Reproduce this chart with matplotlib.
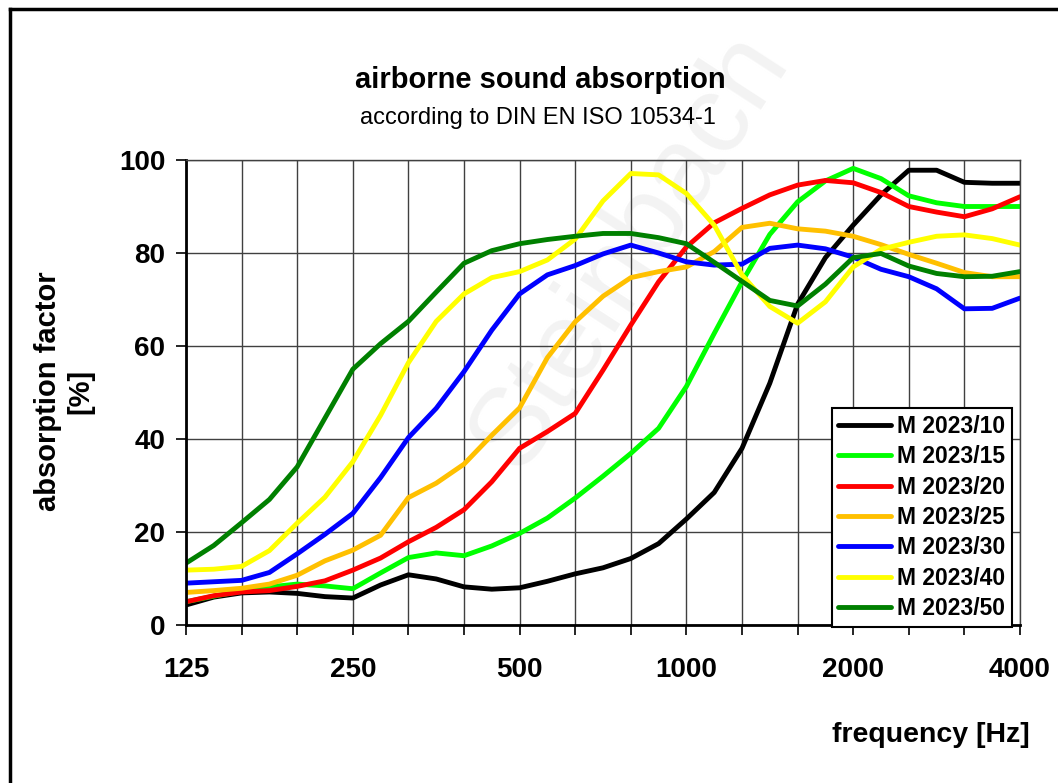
import numpy as np
import matplotlib.pyplot as plt
from matplotlib.lines import Line2D
from matplotlib.ticker import NullFormatter

plt.rcParams['font.family'] = ['Liberation Sans', 'DejaVu Sans']

# 1/6-octave frequencies (Hz)
freq = [125, 140.3, 157.5, 176.8, 198.4, 222.7, 250, 280.6, 315, 353.6, 396.9,
        445.4, 500, 561.2, 630, 707.1, 793.7, 890.9, 1000, 1122.5, 1259.9,
        1414.2, 1587.4, 1781.8, 2000, 2244.9, 2519.8, 2828.4, 3174.8, 3563.6, 4000]

m10 = [4.3, 6.0, 6.9, 7.1, 6.8, 6.1, 5.8, 8.6, 10.8, 9.9, 8.2, 7.7, 8.0, 9.4, 11.0,
       12.3, 14.3, 17.5, 22.8, 28.5, 38.0, 52.0, 69.0, 79.0, 86.0, 92.5, 97.8, 97.8,
       95.2, 95.0, 95.0]
m15 = [5.0, 6.2, 7.3, 8.2, 8.8, 8.4, 7.8, 11.2, 14.5, 15.5, 14.9, 17.0, 19.7, 23.0,
       27.3, 32.0, 36.9, 42.3, 51.3, 62.7, 73.8, 84.0, 91.0, 95.5, 98.2, 96.0, 92.3,
       90.8, 90.0, 90.0, 90.0]
m20 = [5.0, 6.3, 7.1, 7.4, 8.3, 9.5, 11.8, 14.4, 17.9, 21.0, 24.8, 30.8, 38.0, 41.6,
       45.5, 54.8, 64.5, 73.8, 81.3, 86.5, 89.6, 92.5, 94.6, 95.6, 95.1, 93.0, 90.0,
       88.8, 87.8, 89.5, 92.1]
m25 = [7.0, 7.4, 7.9, 8.8, 10.7, 13.8, 16.1, 19.3, 27.4, 30.5, 34.6, 40.8, 46.7, 57.5,
       65.2, 70.7, 74.7, 76.0, 77.0, 80.3, 85.5, 86.4, 85.2, 84.7, 83.6, 81.8, 79.7,
       77.8, 75.8, 74.9, 74.9]
m30 = [9.0, 9.3, 9.6, 11.3, 15.3, 19.5, 24.0, 31.7, 40.3, 46.6, 54.5, 63.4, 71.2, 75.3,
       77.3, 79.8, 81.7, 80.0, 78.1, 77.4, 77.6, 81.0, 81.7, 80.9, 79.1, 76.5, 74.9,
       72.3, 68.0, 68.1, 70.3]
m40 = [11.8, 12.0, 12.6, 16.0, 21.9, 27.5, 35.1, 45.1, 56.4, 65.3, 71.2, 74.7, 76.0,
       78.5, 83.0, 91.2, 97.1, 96.8, 92.8, 86.0, 75.3, 68.5, 64.9, 69.5, 77.0, 80.8,
       82.3, 83.6, 83.9, 83.1, 81.7]
m50 = [13.3, 17.1, 22.0, 27.0, 34.0, 44.5, 55.0, 60.5, 65.3, 71.6, 77.8, 80.5, 82.0,
       82.9, 83.6, 84.2, 84.2, 83.3, 82.0, 78.0, 73.9, 69.8, 68.6, 73.3, 79.0, 79.9,
       77.2, 75.6, 74.9, 75.0, 76.0]

names = ['M 2023/10', 'M 2023/15', 'M 2023/20', 'M 2023/25', 'M 2023/30', 'M 2023/40', 'M 2023/50']
series = [m10, m15, m20, m25, m30, m40, m50]
colors = ['#000000', '#00ff00', '#ff0000', '#ffc000', '#0000ff', '#ffff00', '#008000']

octaves = [125, 250, 500, 1000, 2000, 4000]
octave_labels = ['125', '250', '500', '1000', '2000', '4000']
thirds = [157.5, 198.4, 315, 396.9, 630, 793.7, 1259.9, 1587.4, 2519.8, 3174.8]

fig = plt.figure(figsize=(10.58, 7.83), dpi=100)
W, H = 1058, 783

# watermark
fig.text(630 / W, 1 - 250 / H, 'Steinbach', fontsize=80, color='#f3f3f3',
         rotation=57, ha='center', va='center', zorder=-5)

ax = fig.add_axes([186 / W, 1 - 625 / H, (1020 - 186) / W, (625 - 160) / H])
ax.set_facecolor('none')
ax.set_xscale('log', base=2)

for name, vals, col in zip(names, series, colors):
    ax.plot(freq, vals, color=col, lw=3.5, label=name,
            solid_joinstyle='round', solid_capstyle='round')

ax.set_xlim(125, 4000)
ax.set_ylim(0, 100)
ax.set_xticks(octaves)
ax.set_xticklabels(octave_labels, fontsize=20, fontweight='bold')
ax.set_xticks(thirds, minor=True)
ax.xaxis.set_minor_formatter(NullFormatter())
ax.set_yticks([0, 20, 40, 60, 80, 100])
ax.set_yticklabels(['0', '20', '40', '60', '80', '100'], fontsize=20, fontweight='bold')
ax.tick_params(axis='x', which='both', direction='out', length=7, width=1.2, pad=16)
ax.tick_params(axis='y', direction='out', length=7, width=1.2, pad=8)
ax.grid(axis='x', which='both', color='#404040', lw=1)
ax.grid(axis='y', which='major', color='#404040', lw=1)
ax.set_axisbelow(True)

ax.spines['left'].set_linewidth(2)
ax.spines['bottom'].set_linewidth(2)
for s in ['top', 'right']:
    ax.spines[s].set_color('#404040')
    ax.spines[s].set_linewidth(1)

leg = ax.legend(loc='upper right', bbox_to_anchor=((1012 - 186) / 834, (625 - 408) / 465),
                borderaxespad=0, prop={'weight': 'bold', 'size': 16.5}, fancybox=False,
                edgecolor='black', framealpha=1, handlelength=2.3, handletextpad=0.25,
                labelspacing=0.32, borderpad=0.3)
leg.get_frame().set_linewidth(1.5)

fig.text(540 / W, 1 - 80 / H, 'airborne sound absorption', fontsize=21, fontweight='bold',
         ha='center', va='center')
fig.text(538 / W, 1 - 118 / H, 'according to DIN EN ISO 10534-1', fontsize=17,
         ha='center', va='center')
fig.text(64 / W, 1 - 391 / H, 'absorption factor\n[%]', fontsize=21, fontweight='bold',
         rotation=90, ha='center', va='center', multialignment='center')
fig.text(1030 / W, 1 - 735 / H, 'frequency [Hz]', fontsize=20.5, fontweight='bold',
         ha='right', va='center')

# outer frame (top and left edges visible)
fig.add_artist(Line2D([10 / W, 10 / W], [0, 1 - 9 / H], transform=fig.transFigure,
                      color='black', lw=2.5))
fig.add_artist(Line2D([10 / W, 1], [1 - 9 / H, 1 - 9 / H], transform=fig.transFigure,
                      color='black', lw=2.5))

fig.savefig('out.png', dpi=100)
